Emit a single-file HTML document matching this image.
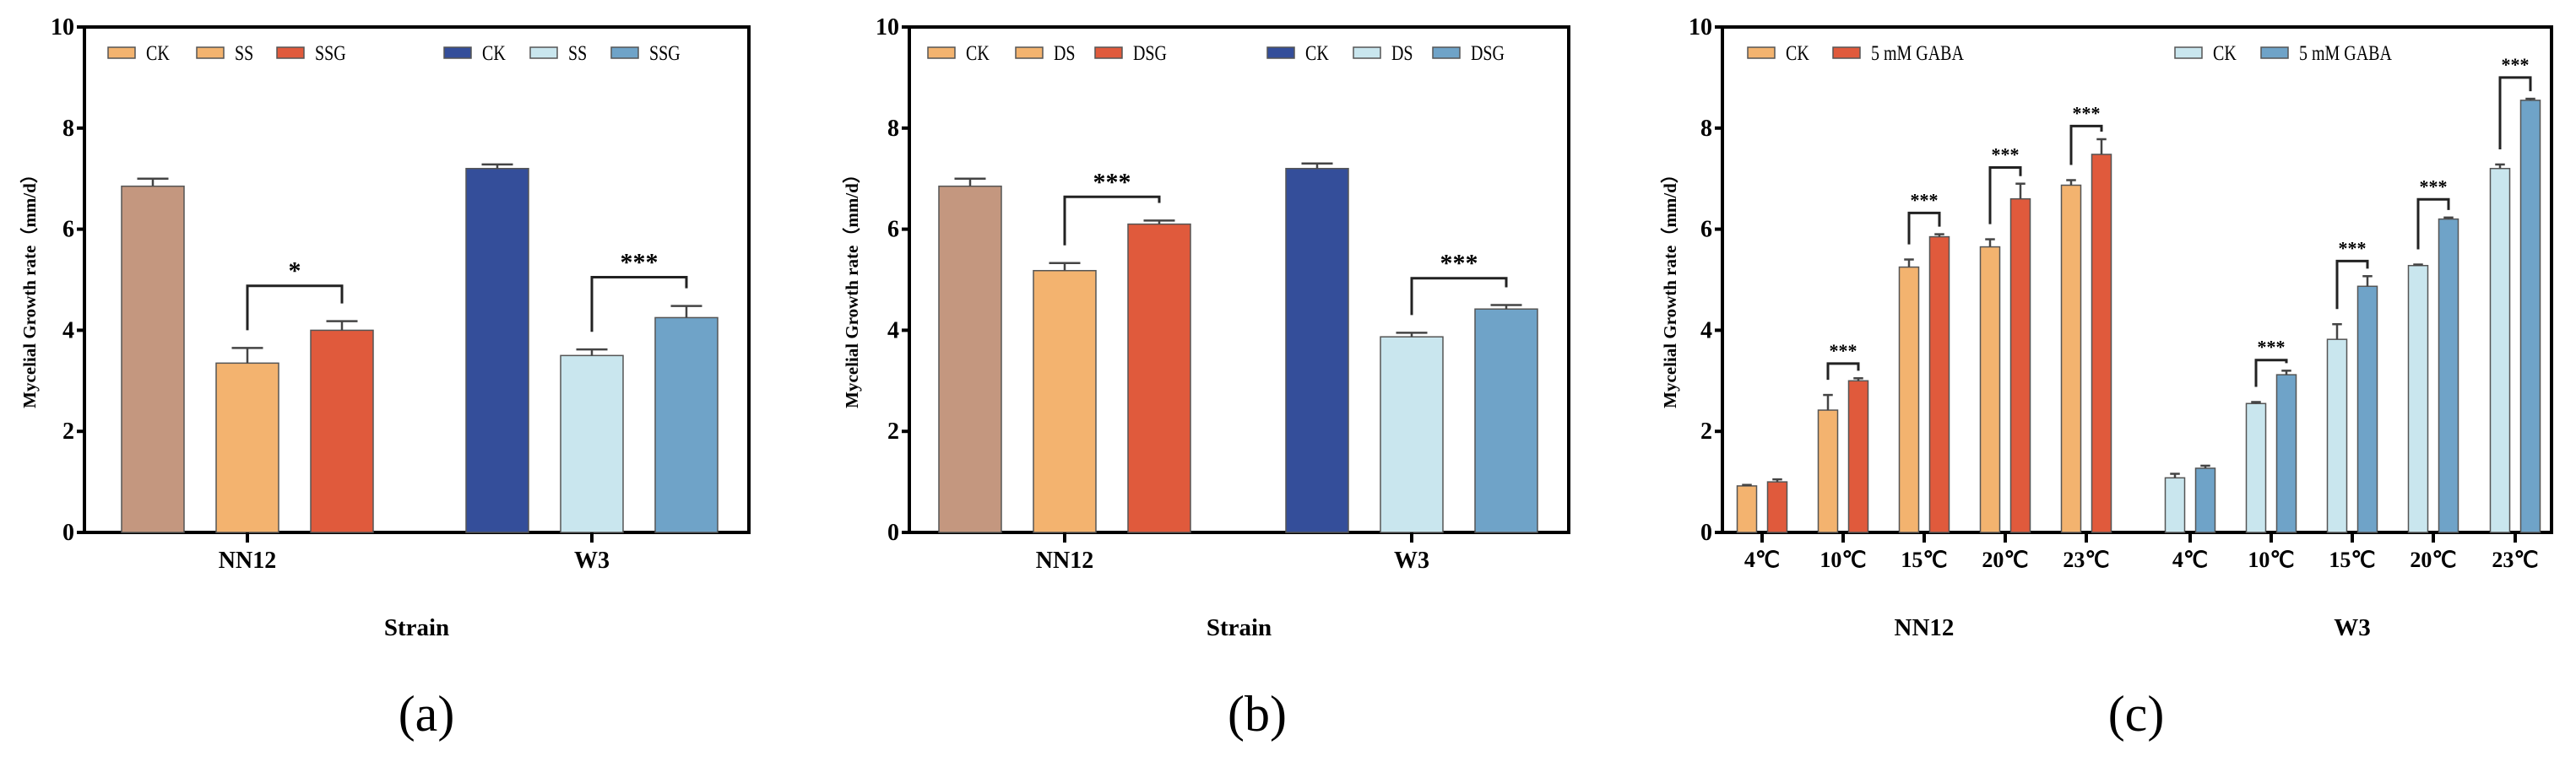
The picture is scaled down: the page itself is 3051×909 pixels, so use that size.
<!DOCTYPE html>
<html><head><meta charset="utf-8"><style>
html,body{margin:0;padding:0;background:#fff;}
svg{display:block;}
text{font-family:"Liberation Serif",serif;}
</style></head><body>
<svg id="fig" width="3051" height="909" viewBox="0 0 3051 909" xmlns="http://www.w3.org/2000/svg"></svg>
<script>
// ---- data ----
const yTicks = [0, 2, 4, 6, 8, 10];
const strainCats = ["NN12", "W3"];
// panel a
const aLabels = ["CK", "SS", "SSG"];
const aNN12 = [6.85, 3.35, 4.0];
const aNN12Err = [0.15, 0.3, 0.18];
const aW3 = [7.2, 3.5, 4.25];
const aW3Err = [0.08, 0.12, 0.23];
const aSig = ["*", "***"];
const aBracket = [4.88, 5.05];
// panel b
const bLabels = ["CK", "DS", "DSG"];
const bNN12 = [6.85, 5.18, 6.1];
const bNN12Err = [0.15, 0.15, 0.07];
const bW3 = [7.2, 3.87, 4.42];
const bW3Err = [0.1, 0.08, 0.08];
const bSig = ["***", "***"];
const bBracket = [6.64, 5.03];
// panel c
const temps = ["4℃", "10℃", "15℃", "20℃", "23℃"];
const cNN12CK = [0.92, 2.42, 5.25, 5.65, 6.87];
const cNN12CKErr = [0.02, 0.3, 0.15, 0.15, 0.1];
const cNN12G = [1.0, 3.0, 5.85, 6.6, 7.48];
const cNN12GErr = [0.05, 0.05, 0.05, 0.3, 0.3];
const cW3CK = [1.08, 2.55, 3.82, 5.28, 7.2];
const cW3CKErr = [0.08, 0.03, 0.3, 0.02, 0.08];
const cW3G = [1.27, 3.12, 4.87, 6.2, 8.55];
const cW3GErr = [0.05, 0.08, 0.2, 0.03, 0.03];
const cNN12Bracket = [null, 3.34, 6.32, 7.22, 8.04];
const cW3Bracket = [null, 3.41, 5.37, 6.59, 9.0];

const C = {brown:"#c4977f", orange:"#f3b36f", red:"#e05a3c", navy:"#344e9a", lblue:"#c9e6ee", mblue:"#6fa3c8"};
const NS = "http://www.w3.org/2000/svg";
const svg = document.getElementById("fig");
function el(tag, attrs, parent, txt){
  const e = document.createElementNS(NS, tag);
  for (const k in attrs) e.setAttribute(k, attrs[k]);
  if (txt !== undefined) e.textContent = txt;
  (parent || svg).appendChild(e);
  return e;
}
const Y0 = 631, Y10 = 32;
function yPix(v){ return Y0 - (v/10)*(Y0-Y10); }

function frame(g, x0, x1, yLabelX){
  const f = el("rect", {x:x0, y:Y10, width:x1-x0, height:Y0-Y10, fill:"none", stroke:"#000", "stroke-width":4}, g);
  
  
  yTicks.forEach(t => {
    const y = yPix(t);
    const tk = el("line", {x1:x0-9, x2:x0, y1:y, y2:y, stroke:"#000", "stroke-width":4}, g);
    
    
    const tl = el("text", {x:x0-12, y:y+9, "text-anchor":"end", "font-size":28, "font-weight":"bold"}, g, String(t));
    
    
  });
  const yl = el("text", {x:0, y:0, transform:`translate(${yLabelX},340) rotate(-90)`, "text-anchor":"middle", "font-size":21, "font-weight":"bold", "font-family":"Liberation Serif, Noto Serif CJK SC, serif"}, g, "Mycelial Growth rate（mm/d）");
  
  
}
function bar(g, cx, w, v, err, fill, name){
  const r = el("rect", {x:cx-w/2, y:yPix(v), width:w, height:Y0-yPix(v), fill:fill, stroke:"#555", "stroke-width":1.5}, g);
  
  
  const et = yPix(v+err);
  const e1 = el("line", {x1:cx, x2:cx, y1:yPix(v), y2:et, stroke:"#444", "stroke-width":2.5}, g);
  
  
  const e2 = el("line", {x1:cx-w*0.25, x2:cx+w*0.25, y1:et, y2:et, stroke:"#444", "stroke-width":2.5}, g);
  
  
}
function bracket(g, xl, xr, top, legL, legR, star, fs){
  const p = el("path", {d:`M${xl},${yPix(legL)} V${yPix(top)} H${xr} V${yPix(legR)}`, fill:"none", stroke:"#222", "stroke-width":3}, g);
  
  
  const s = el("text", {x:(xl+xr)/2, y:yPix(top)-8, "text-anchor":"middle", "font-size":fs, "font-weight":"bold", "font-family":"Liberation Sans, sans-serif"}, g, star);
  
  
}
function legendItem(g, x, color, label){
  const r = el("rect", {x:x, y:56, width:32, height:13, fill:color, stroke:"#555", "stroke-width":1.5}, g);
  
  
  const t = el("text", {x:x+45, y:71, "font-size":25, transform:`translate(${(x+45)*0.2},0) scale(0.8,1)`}, g, label);
  
  
}
function strainPanel(name, x0, x1, yLabelX, groupCenters, step, bw, labels, nn, nnE, w3, w3E, sig, br, legX, panelLetter, letterX){
  const g = el("g", {});
  
  
  frame(g, x0, x1, yLabelX);
  const sets = [[nn, nnE, [C.brown, C.orange, C.red]], [w3, w3E, [C.navy, C.lblue, C.mblue]]];
  sets.forEach((s, gi) => {
    const gc = groupCenters[gi];
    s[0].forEach((v, i) => bar(g, gc + (i-1)*step, bw, v, s[1][i], s[2][i], "bar-" + strainCats[gi].toLowerCase() + "-" + labels[i].toLowerCase()));
    const xl = gc, xr = gc + step;
    bracket(g, xl, xr, br[gi], s[0][1] + s[1][1] + 0.35, s[0][2] + s[1][2] + 0.35, sig[gi], 30);
    const tk = el("line", {x1:gc, x2:gc, y1:Y0, y2:Y0+12, stroke:"#000", "stroke-width":4}, g);
    
    
    const xl2 = el("text", {x:gc, y:673, "text-anchor":"middle", "font-size":28, "font-weight":"bold"}, g, strainCats[gi]);
    
    
  });
  const legColors = [C.orange, C.orange, C.red, C.navy, C.lblue, C.mblue];
  legX.forEach((x, i) => legendItem(g, x, legColors[i], labels[i % 3]));
  const xt = el("text", {x:(x0+x1)/2, y:753, "text-anchor":"middle", "font-size":29, "font-weight":"bold"}, g, "Strain");
  
  
  const pl = el("text", {x:letterX, y:866, "text-anchor":"middle", "font-size":60, "font-family":"DejaVu Sans, sans-serif", "font-weight":"300"}, g, panelLetter);
  
  
}
strainPanel("panel-a", 100, 887, 42, [293, 701], 112, 74, aLabels, aNN12, aNN12Err, aW3, aW3Err, aSig, aBracket,
  [128, 233, 328, 526, 628, 724], "(a)", 505);
strainPanel("panel-b", 1077, 1858, 1016, [1261, 1672], 112, 74, bLabels, bNN12, bNN12Err, bW3, bW3Err, bSig, bBracket,
  [1099, 1203, 1297, 1501, 1603, 1697], "(b)", 1489);

// panel c
(function(){
  const g = el("g", {});
  
  
  const x0 = 2040, x1 = 3022;
  frame(g, x0, x1, 1985);
  const nnTicks = [2087, 2183, 2279, 2375, 2471];
  const w3Ticks = [2594, 2690, 2786, 2882, 2979];
  const bw = 23, off = 18;
  const groups = [[nnTicks, cNN12CK, cNN12CKErr, cNN12G, cNN12GErr, C.orange, C.red, cNN12Bracket, "nn12"],
                  [w3Ticks, cW3CK, cW3CKErr, cW3G, cW3GErr, C.lblue, C.mblue, cW3Bracket, "w3"]];
  groups.forEach(gr => {
    temps.forEach((t, i) => {
      const cx = gr[0][i];
      bar(g, cx-off, bw, gr[1][i], gr[2][i], gr[5], "bar-" + gr[8] + "-ck-" + i);
      bar(g, cx+off, bw, gr[3][i], gr[4][i], gr[6], "bar-" + gr[8] + "-gaba-" + i);
      if (gr[7][i] !== null) {
        bracket(g, cx-off, cx+off, gr[7][i], gr[1][i]+gr[2][i]+0.3, gr[3][i]+gr[4][i]+0.15, "***", 22);
      }
      const tk = el("line", {x1:cx, x2:cx, y1:Y0, y2:Y0+12, stroke:"#000", "stroke-width":4}, g);
      
      
      const tl = el("text", {x:cx, y:672, "text-anchor":"middle", "font-size":26, "font-weight":"bold", "font-family":"Liberation Serif, Noto Serif CJK SC, serif"}, g, t);
      
      
    });
  });
  [[2279, "NN12"], [2786, "W3"]].forEach(s => {
    const t = el("text", {x:s[0], y:753, "text-anchor":"middle", "font-size":29, "font-weight":"bold"}, g, s[1]);
    
    
  });
  legendItem(g, 2070, C.orange, "CK");
  legendItem(g, 2171, C.red, "5 mM GABA");
  legendItem(g, 2576, C.lblue, "CK");
  legendItem(g, 2678, C.mblue, "5 mM GABA");
  const pl = el("text", {x:2530, y:866, "text-anchor":"middle", "font-size":60, "font-family":"DejaVu Sans, sans-serif", "font-weight":"300"}, g, "(c)");
  
  
})();
</script>
</body></html>
